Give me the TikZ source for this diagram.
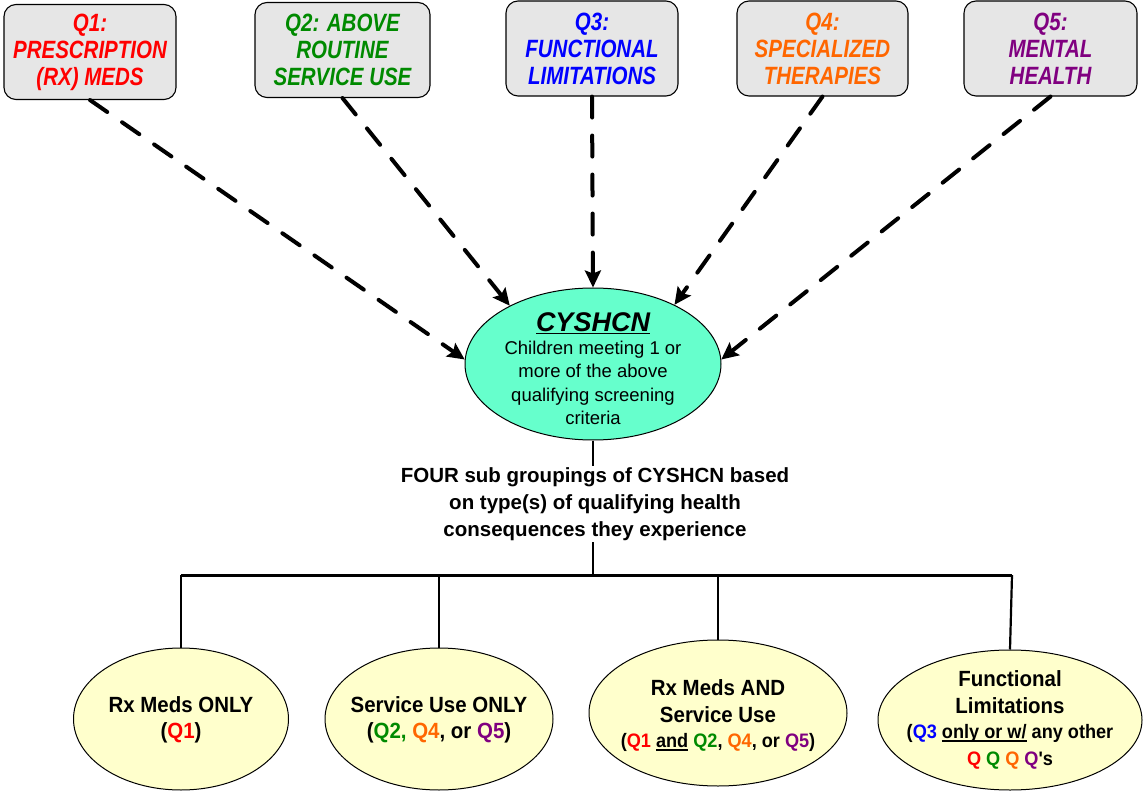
\documentclass[tikz,border=0pt]{standalone}
\usepackage{fontspec}
\setmainfont{Liberation Sans}
\newfontfamily\topfont[FakeStretch=0.82]{Liberation Sans}
\newfontfamily\botfont[FakeStretch=0.93]{Liberation Sans}
\usetikzlibrary{shapes.geometric,arrows.meta}
\definecolor{qred}{HTML}{FF0000}
\definecolor{qgreen}{HTML}{008A00}
\definecolor{qblue}{HTML}{0000FF}
\definecolor{qorange}{HTML}{FF6600}
\definecolor{qpurple}{HTML}{800080}
\definecolor{boxgray}{HTML}{E6E6E6}
\definecolor{aqua}{HTML}{66FFCC}
\definecolor{paleyellow}{HTML}{FFFFCC}
\newcommand{\smallq}{\fontsize{19.5}{25}\selectfont}
\newsavebox{\myulbox}
\newcommand{\myul}[1]{\sbox{\myulbox}{#1}\rlap{\rule[-2.8pt]{\wd\myulbox}{1.4pt}}\usebox{\myulbox}}
\begin{document}
\begin{tikzpicture}[x=1pt,y=-1pt,
  qbox/.style={draw=black,line width=1.1pt,fill=boxgray,rounded corners=12pt,
    minimum height=95pt,inner sep=0pt,align=center,
    font=\topfont\bfseries\itshape\fontsize{25}{27}\selectfont},
  subell/.style={ellipse,draw=black,line width=1pt,fill=paleyellow,inner sep=0pt},
  subtext/.style={align=center,inner sep=0pt,font=\botfont\bfseries\fontsize{22}{26.5}\selectfont},
  darr/.style={line width=4pt,line cap=round,dash pattern=on 21pt off 18pt,
    -{Stealth[length=17pt,width=16pt,inset=3pt,line cap=butt,line join=miter]}},
  tree/.style={line width=2.2pt}]
\useasboundingbox (0,0) rectangle (1143,791);

% top boxes
\node[qbox,minimum width=172pt,text=qred] (q1) at (90,52) {Q1:\\PRESCRIPTION\\(RX) MEDS};
\node[qbox,minimum width=175pt,text=qgreen] (q2) at (342.5,50) {Q2: ABOVE\\ROUTINE\\SERVICE USE};
\node[qbox,minimum width=172pt,text=qblue] (q3) at (592,48.5) {Q3:\\FUNCTIONAL\\LIMITATIONS};
\node[qbox,minimum width=171pt,text=qorange] (q4) at (822.5,48.5) {Q4:\\SPECIALIZED\\THERAPIES};
\node[qbox,minimum width=173pt,text=qpurple] (q5) at (1050.5,48.5) {Q5:\\MENTAL\\HEALTH};

% central ellipse
\node[ellipse,draw=black,line width=1pt,fill=aqua,minimum width=256pt,minimum height=152pt,
  inner sep=0pt] (cy) at (593,364) {};
\node[align=center,inner sep=0pt,font=\fontsize{18.5}{23.5}\selectfont] (cytext) at (593,369)
  {\bfseries\itshape\fontsize{27}{30}\selectfont\underline{CYSHCN}\\[-1pt]
   \normalfont\fontsize{18.5}{23.5}\selectfont Children meeting 1 or\\
   more of the above\\
   qualifying screening\\
   criteria};

% dashed arrows
\draw[darr] (q1.south) -- (cy.178);
\draw[darr] (q2.south) -- (cy.145);
\draw[darr] (q3.south) -- (cy.north);
\draw[darr] (q4.south) -- (cy.36);
\draw[darr] (q5.south) -- (cy.2);

% tree
\coordinate (hub) at (593,575);
\coordinate (barL) at (181,575);
\coordinate (barR) at (1012,575);
\draw[tree] (cy.south) -- (hub);
\node[fill=white,inner sep=1pt,align=center,font=\bfseries\fontsize{20.5}{27}\selectfont] (txt) at (595,504)
  {FOUR sub groupings of CYSHCN based\\on type(s) of qualifying health\\consequences they experience};
\draw[line width=3pt] (barL) -- (barR);

% bottom ellipses
\node[subell,minimum width=215pt,minimum height=142pt] (e1) at (181,719) {};
\node[subtext] (t1) at (181,720) {Rx Meds ONLY\\(\textcolor{qred}{Q1})};
\node[subell,minimum width=228pt,minimum height=142pt] (e2) at (439,719) {};
\node[subtext] (t2) at (439,720)
  {Service Use ONLY\\(\textcolor{qgreen}{Q2,} \textcolor{qorange}{Q4}, or \textcolor{qpurple}{Q5})};
\node[subell,minimum width=258pt,minimum height=146pt] (e3) at (718,713) {};
\node[subtext] (t3) at (718,716)
  {Rx Meds AND\\Service Use\\[-1pt]
   \smallq(\textcolor{qred}{Q1} \myul{and} \textcolor{qgreen}{Q2}, \textcolor{qorange}{Q4}, or \textcolor{qpurple}{Q5})};
\node[subell,minimum width=264pt,minimum height=140pt] (e4) at (1010,720) {};
\node[subtext] (t4) at (1010,720)
  {Functional\\Limitations\\[-1pt]
   \smallq(\textcolor{qblue}{Q3} \myul{only or w/} any other\\
   \smallq\textcolor{qred}{Q} \textcolor{qgreen}{Q} \textcolor{qorange}{Q} \textcolor{qpurple}{Q}'s};

\draw[tree] (barL) -- (e1.north);
\draw[tree] (e2.north |- hub) -- (e2.north);
\draw[tree] (e3.north |- hub) -- (e3.north);
\draw[tree] (barR) -- (e4.north);
\end{tikzpicture}
\end{document}
